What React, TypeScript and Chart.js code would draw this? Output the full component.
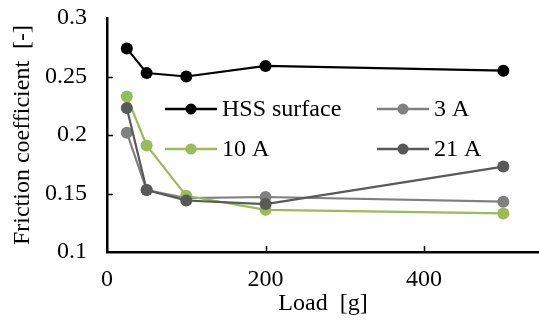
import React, { useEffect, useRef } from "react";
import { Chart, registerables } from "chart.js";

Chart.register(...registerables);

const loads = [25, 50, 100, 200, 500];
const hss = [0.274, 0.253, 0.25, 0.259, 0.255];
const a3 = [0.202, 0.153, 0.146, 0.147, 0.143];
const a10 = [0.233, 0.191, 0.148, 0.136, 0.133];
const a21 = [0.223, 0.153, 0.144, 0.141, 0.173];
const seriesNames = ["HSS surface", "3 A", "10 A", "21 A"];
const seriesColors = ["#000000", "#808080", "#9bbb59", "#595959"];
const xTickValues = [0, 200, 400];
const yTickValues = [0.1, 0.15, 0.2, 0.25, 0.3];

const FONT = "'Liberation Serif', 'Times New Roman', serif";
const FS = 24;

const zeroPad = (scale: any) => {
  scale.paddingTop = 0;
  scale.paddingBottom = 0;
  scale.paddingLeft = 0;
  scale.paddingRight = 0;
};

const innerTicks = {
  id: "innerTicks",
  afterDraw(chart: any) {
    const { ctx, chartArea, scales } = chart;
    ctx.save();
    ctx.strokeStyle = "#000";
    ctx.lineWidth = 1.5;
    ctx.beginPath();
    for (const v of xTickValues) {
      if (v === 0) continue;
      const px = Math.round(scales.x.getPixelForValue(v)) + 0.5;
      ctx.moveTo(px, chartArea.bottom);
      ctx.lineTo(px, chartArea.bottom - 6);
    }
    for (const v of yTickValues) {
      if (v === 0.1 || v === 0.3) continue;
      const py = Math.round(scales.y.getPixelForValue(v)) + 0.5;
      ctx.moveTo(chartArea.left, py);
      ctx.lineTo(chartArea.left + 6, py);
    }
    ctx.stroke();
    ctx.restore();
  },
};

const customLegend = {
  id: "customLegend",
  afterDraw(chart: any) {
    const { ctx, chartArea } = chart;
    const cols = [chartArea.left + 58, chartArea.left + 270];
    const rows = [chartArea.top + 91, chartArea.top + 131];
    ctx.save();
    seriesNames.forEach((name, i) => {
      const cx = cols[i % 2];
      const cy = rows[Math.floor(i / 2)];
      const col = seriesColors[i];
      ctx.strokeStyle = col;
      ctx.lineWidth = 2.5;
      ctx.beginPath();
      ctx.moveTo(cx, cy);
      ctx.lineTo(cx + 52, cy);
      ctx.stroke();
      ctx.fillStyle = col;
      ctx.beginPath();
      ctx.arc(cx + 26, cy, 5.5, 0, Math.PI * 2);
      ctx.fill();
      ctx.fillStyle = "#000";
      ctx.font = `${FS}px ${FONT}`;
      ctx.textBaseline = "middle";
      ctx.textAlign = "left";
      ctx.fillText(name, cx + 57, cy + 1);
    });
    ctx.restore();
  },
};

export default function App() {
  const ref = useRef<HTMLCanvasElement | null>(null);

  useEffect(() => {
    if (!ref.current) return;
    const all = [hss, a3, a10, a21];
    const chart = new Chart(ref.current, {
      type: "line",
      data: {
        datasets: all.map((vals, i) => ({
          label: seriesNames[i],
          data: loads.map((x, j) => ({ x, y: vals[j] })),
          borderColor: seriesColors[i],
          backgroundColor: seriesColors[i],
          pointBackgroundColor: seriesColors[i],
          pointBorderColor: seriesColors[i],
          pointRadius: 6,
          pointBorderWidth: 0,
          borderWidth: 2.2,
          tension: 0,
          order: 3 - i,
        })),
      },
      options: {
        animation: false,
        responsive: false,
        maintainAspectRatio: false,
        layout: { autoPadding: false, padding: { top: 18, right: 0, left: 0, bottom: 0 } },
        plugins: {
          legend: { display: false },
          tooltip: { enabled: false },
        },
        scales: {
          x: {
            type: "linear",
            min: 0,
            max: 545,
            afterBuildTicks: (scale: any) => {
              scale.ticks = xTickValues.map((v) => ({ value: v }));
            },
            afterFit: (scale: any) => {
              scale.height = 70;
              zeroPad(scale);
            },
            grid: { display: false, drawTicks: false },
            border: { display: true, color: "#000", width: 2.5 },
            ticks: {
              color: "#000",
              font: { family: FONT, size: FS },
              padding: 13,
              maxRotation: 0,
            },
            title: {
              display: true,
              text: "Load  [g]",
              color: "#000",
              font: { family: FONT, size: FS },
              padding: { top: 0, bottom: 4 },
            },
          },
          y: {
            type: "linear",
            min: 0.1,
            max: 0.3,
            afterBuildTicks: (scale: any) => {
              scale.ticks = yTickValues.map((v) => ({ value: v }));
            },
            afterFit: (scale: any) => {
              scale.width = 107;
              zeroPad(scale);
            },
            grid: { display: false, drawTicks: false },
            border: { display: true, color: "#000", width: 2.5 },
            ticks: {
              color: "#000",
              font: { family: FONT, size: FS },
              padding: 20,
              callback: (v: any) => String(Number(Number(v).toFixed(2))),
            },
            title: {
              display: true,
              text: "Friction coefficient  [-]",
              color: "#000",
              font: { family: FONT, size: FS },
              padding: { top: 8, bottom: 0 },
            },
          },
        },
      },
      plugins: [innerTicks, customLegend],
    });
    return () => chart.destroy();
  }, []);

  return (
    <div style={{ position: "fixed", left: 0, top: 0, width: 539, height: 322, background: "#fff" }}>
      <canvas ref={ref} width={539} height={322} style={{ display: "block" }} />
    </div>
  );
}
